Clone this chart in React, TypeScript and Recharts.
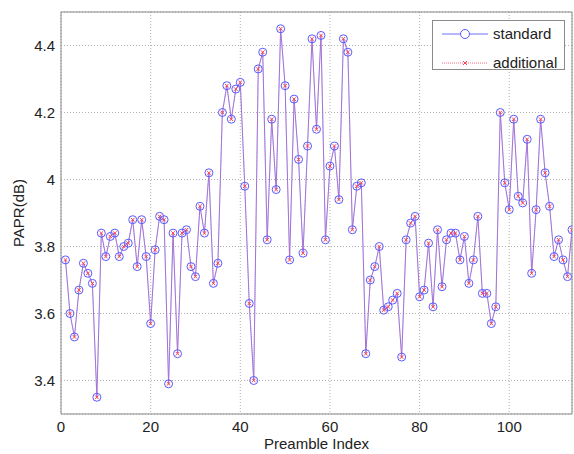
import React from 'react'
import {
  LineChart,
  Line,
  XAxis,
  YAxis,
  CartesianGrid,
  ReferenceArea,
} from 'recharts'

// PAPR per preamble index
const indices = [
  1, 2, 3, 4, 5, 6, 7, 8, 9, 10, 11, 12, 13, 14, 15, 16, 17, 18, 19, 20,
  21, 22, 23, 24, 25, 26, 27, 28, 29, 30, 31, 32, 33, 34, 35, 36, 37, 38, 39, 40,
  41, 42, 43, 44, 45, 46, 47, 48, 49, 50, 51, 52, 53, 54, 55, 56, 57, 58, 59, 60,
  61, 62, 63, 64, 65, 66, 67, 68, 69, 70, 71, 72, 73, 74, 75, 76, 77, 78, 79, 80,
  81, 82, 83, 84, 85, 86, 87, 88, 89, 90, 91, 92, 93, 94, 95, 96, 97, 98, 99, 100,
  101, 102, 103, 104, 105, 106, 107, 108, 109, 110, 111, 112, 113, 114,
]

const standard = [
  3.76, 3.6, 3.53, 3.67, 3.75, 3.72, 3.69, 3.35, 3.84, 3.77,
  3.83, 3.84, 3.77, 3.8, 3.81, 3.88, 3.74, 3.88, 3.77, 3.57,
  3.79, 3.89, 3.88, 3.39, 3.84, 3.48, 3.84, 3.85, 3.74, 3.71,
  3.92, 3.84, 4.02, 3.69, 3.75, 4.2, 4.28, 4.18, 4.27, 4.29,
  3.98, 3.63, 3.4, 4.33, 4.38, 3.82, 4.18, 3.97, 4.45, 4.28,
  3.76, 4.24, 4.06, 3.78, 4.1, 4.42, 4.15, 4.43, 3.82, 4.04,
  4.1, 3.94, 4.42, 4.38, 3.85, 3.98, 3.99, 3.48, 3.7, 3.74,
  3.8, 3.61, 3.62, 3.64, 3.66, 3.47, 3.82, 3.87, 3.89, 3.65,
  3.67, 3.81, 3.62, 3.85, 3.68, 3.82, 3.84, 3.84, 3.76, 3.83,
  3.69, 3.76, 3.89, 3.66, 3.66, 3.57, 3.62, 4.2, 3.99, 3.91,
  4.18, 3.95, 3.93, 4.12, 3.72, 3.91, 4.18, 4.02, 3.92, 3.77,
  3.82, 3.76, 3.71, 3.85,
]

// the additional preamble set gives the same PAPR values
const additional = [
  3.76, 3.6, 3.53, 3.67, 3.75, 3.72, 3.69, 3.35, 3.84, 3.77,
  3.83, 3.84, 3.77, 3.8, 3.81, 3.88, 3.74, 3.88, 3.77, 3.57,
  3.79, 3.89, 3.88, 3.39, 3.84, 3.48, 3.84, 3.85, 3.74, 3.71,
  3.92, 3.84, 4.02, 3.69, 3.75, 4.2, 4.28, 4.18, 4.27, 4.29,
  3.98, 3.63, 3.4, 4.33, 4.38, 3.82, 4.18, 3.97, 4.45, 4.28,
  3.76, 4.24, 4.06, 3.78, 4.1, 4.42, 4.15, 4.43, 3.82, 4.04,
  4.1, 3.94, 4.42, 4.38, 3.85, 3.98, 3.99, 3.48, 3.7, 3.74,
  3.8, 3.61, 3.62, 3.64, 3.66, 3.47, 3.82, 3.87, 3.89, 3.65,
  3.67, 3.81, 3.62, 3.85, 3.68, 3.82, 3.84, 3.84, 3.76, 3.83,
  3.69, 3.76, 3.89, 3.66, 3.66, 3.57, 3.62, 4.2, 3.99, 3.91,
  4.18, 3.95, 3.93, 4.12, 3.72, 3.91, 4.18, 4.02, 3.92, 3.77,
  3.82, 3.76, 3.71, 3.85,
]

const xTicks = [0, 20, 40, 60, 80, 100]
const yTicks = [3.4, 3.6, 3.8, 4, 4.2, 4.4]
const legendLabels = ['standard', 'additional']

const data = indices.map((x, i) => ({
  x,
  standard: standard[i],
  additional: additional[i],
}))

const FONT = '"Liberation Sans", Arial, sans-serif'
const BLUE = '#8a7cf0'
const RED = '#e0609a'
const tickStyle = { fill: '#222', fontSize: 15, fontFamily: FONT }

function CircleDot(props: any) {
  const { cx, cy, index } = props
  if (cx == null || cy == null) return <g key={index} />
  return <circle key={index} cx={cx} cy={cy} r={4} fill="none" stroke="#5a5aff" strokeWidth={1} />
}

function CrossDot(props: any) {
  const { cx, cy, index } = props
  if (cx == null || cy == null) return <g key={index} />
  const s = 1.8
  return (
    <path
      key={index}
      d={`M${cx - s},${cy - s}L${cx + s},${cy + s}M${cx - s},${cy + s}L${cx + s},${cy - s}`}
      stroke="#ff4050"
      strokeWidth={1}
    />
  )
}

function LegendBox() {
  return (
    <div
      style={{
        position: 'absolute',
        left: 432,
        top: 20,
        width: 131,
        height: 48,
        border: '1px solid #8a8a8a',
        background: '#fff',
        fontFamily: FONT,
        fontSize: 15,
        color: '#222',
      }}
    >
      <svg width={60} height={48} style={{ position: 'absolute', left: 0, top: 0 }}>
        <line x1={9} y1={13} x2={55} y2={13} stroke="#7070ff" strokeWidth={1} />
        <circle cx={32} cy={13} r={4.5} fill="#fff" stroke="#5a5aff" strokeWidth={1} />
        <line x1={9} y1={42} x2={55} y2={42} stroke="#ff7080" strokeWidth={1} strokeDasharray="1 1" />
        <path d="M30,40L34,44M30,44L34,40" stroke="#ff4050" strokeWidth={1} />
      </svg>
      <div style={{ position: 'absolute', left: 60, top: 4, lineHeight: '18px' }}>{legendLabels[0]}</div>
      <div style={{ position: 'absolute', left: 60, top: 33, lineHeight: '18px' }}>{legendLabels[1]}</div>
    </div>
  )
}

export default function App() {
  return (
    <div style={{ width: 574, height: 454, background: '#fff', position: 'relative' }}>
      <style>{'body{margin:0}'}</style>
      <LineChart
        width={574}
        height={454}
        data={data}
        margin={{ top: 12, right: 2, bottom: 0, left: 0 }}
      >
        <CartesianGrid stroke="#b0b0b0" strokeDasharray="1 2" />
        <XAxis
          type="number"
          dataKey="x"
          domain={[0, 114]}
          ticks={xTicks}
          allowDataOverflow
          height={40}
          axisLine={false}
          tickLine={false}
          tickSize={6}
          tickMargin={1}
          tick={tickStyle}
          label={{
            value: 'Preamble Index',
            position: 'insideBottom',
            offset: 5,
            style: { fill: '#222', fontSize: 15, fontFamily: FONT },
          }}
        />
        <YAxis
          type="number"
          domain={[3.3, 4.5]}
          ticks={yTicks}
          allowDataOverflow
          width={61}
          axisLine={false}
          tickLine={false}
          tickSize={4}
          tickMargin={2}
          tick={tickStyle}
          label={{
            value: 'PAPR(dB)',
            angle: -90,
            position: 'insideLeft',
            offset: 19,
            style: { textAnchor: 'middle', fill: '#222', fontSize: 15, fontFamily: FONT },
          }}
        />
        <ReferenceArea
          x1={0}
          x2={114}
          y1={3.3}
          y2={4.5}
          fill="none"
          stroke="#8a8a8a"
          strokeWidth={1}
          ifOverflow="visible"
        />
        <Line
          dataKey="standard"
          name="standard"
          stroke={BLUE}
          strokeWidth={1}
          dot={CircleDot}
          activeDot={false}
          isAnimationActive={false}
        />
        <Line
          dataKey="additional"
          name="additional"
          stroke={RED}
          strokeOpacity={0.6}
          strokeWidth={1}
          strokeDasharray="1 1"
          dot={CrossDot}
          activeDot={false}
          isAnimationActive={false}
        />
      </LineChart>
      <LegendBox />
    </div>
  )
}
